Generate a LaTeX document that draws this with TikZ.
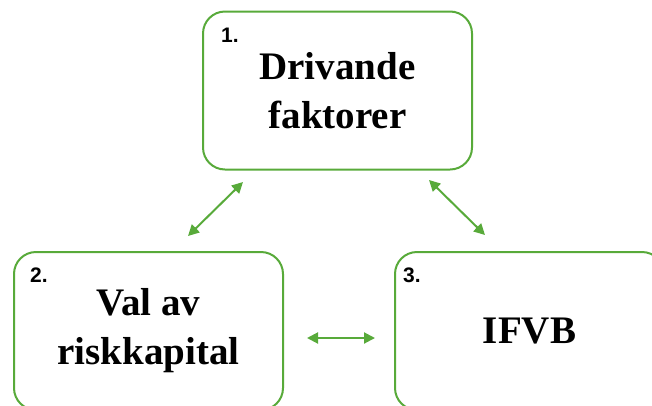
\documentclass[tikz,border=0pt]{standalone}
\usepackage{fontspec}
\setmainfont{Liberation Serif}
\newfontfamily\numfont{Liberation Sans}
\usepackage{xcolor}
\usetikzlibrary{arrows.meta, calc}
\definecolor{boxgreen}{RGB}{88,170,58}

\begin{document}
\begin{tikzpicture}[x=1pt, y=-1pt,
    box/.style={draw=boxgreen, line width=2pt, rounded corners=22pt,
        minimum width=269pt, minimum height=158pt, align=center,
        font=\fontsize{39}{49}\selectfont\bfseries},
    nummer/.style={anchor=base west, inner sep=0pt,
        font=\numfont\fontsize{21}{21}\selectfont\bfseries},
    pil/.style={boxgreen, line width=2pt,
        {Triangle[length=11pt,width=11pt]}-{Triangle[length=11pt,width=11pt]}}]
    \useasboundingbox (0,0) rectangle (652,405);
    \clip (0,0) rectangle (652,405);

    % Ruta 1
    \node[box] (drivande) at (337.5, 90.5) {Drivande\\faktorer};
    \node[nummer] (n1) at ($(drivande.north west)+(19,32)$) {1.};

    % Ruta 2
    \node[box] (risk) at (148.5, 331) {Val av\\riskkapital};
    \node[nummer] (n2) at ($(risk.north west)+(17,31)$) {2.};

    % Ruta 3
    \node[box] (ifvb) at (529.5, 331) {IFVB};
    \node[nummer] (n3) at ($(ifvb.north west)+(9,31)$) {3.};

    % Pilar
    \coordinate (a1) at (243, 182);
    \coordinate (b1) at (188, 236);
    \coordinate (a2) at (429, 180);
    \coordinate (b2) at (485, 235);
    \coordinate (a3) at (307, 338);
    \coordinate (b3) at (375, 338);
    \draw[pil] (a1) -- (b1);
    \draw[pil] (a2) -- (b2);
    \draw[pil] (a3) -- (b3);
\end{tikzpicture}
\end{document}
